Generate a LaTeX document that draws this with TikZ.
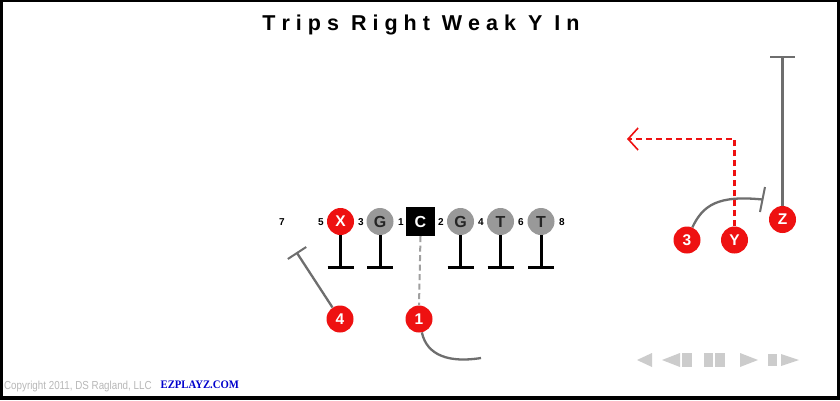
\documentclass[tikz,border=0pt]{standalone}
\usepackage{fontspec}
\setmainfont{Liberation Sans}
\newfontfamily\ezfont{Liberation Serif}
\usetikzlibrary{arrows.meta}
\makeatletter
\newcommand\ltrsp[1]{\@tfor\ltrch:=#1\do{\ltrch\kern6pt}}
\makeatother
\definecolor{pred}{HTML}{EE1111}
\definecolor{pgray}{HTML}{999999}
\definecolor{routegray}{HTML}{6E6E6E}
\definecolor{dashgray}{HTML}{A0A0A0}
\definecolor{ctrlgray}{HTML}{CCCCCC}
\definecolor{copygray}{HTML}{B8B8B8}
\definecolor{ezblue}{HTML}{0000CC}
\begin{document}
\begin{tikzpicture}[x=1pt,y=-1pt,
  lineman/.style={circle,fill=pgray,minimum size=27pt,inner sep=0pt,
    font=\bfseries\fontsize{16}{16}\selectfont,text=black!85},
  skill/.style={circle,fill=pred,minimum size=27pt,inner sep=0pt,
    font=\bfseries\fontsize{15.5}{15.5}\selectfont,text=white},
  cbox/.style={rectangle,fill=black,minimum size=29pt,inner sep=0pt,
    font=\bfseries\fontsize{16}{16}\selectfont,text=white},
  gapnum/.style={font=\bfseries\fontsize{10}{10}\selectfont,inner sep=0pt},
  blk/.style={line width=3pt,black},
  rte/.style={line width=2.3pt,routegray},
  bar/.style={line width=2pt,routegray},
  yroute/.style={line width=2.2pt,pred,dash pattern=on 6pt off 4pt},
  ctrl/.style={fill=ctrlgray}
]
\useasboundingbox (0,0) rectangle (840,400);
\fill[black] (0,0) rectangle (840,400);
\fill[white] (3,2) rectangle (837,396);

% title
\node[anchor=base,inner sep=0pt,font=\bfseries\fontsize{21.5}{21.5}\selectfont] (title) at (424,30)
  {\ltrsp{Trips}\hspace{6pt}\ltrsp{Right}\hspace{6pt}\ltrsp{Weak}\hspace{6pt}\ltrsp{Y}\hspace{6pt}\ltrsp{In}};

% line
\node[skill] (X) at (340.5,221.5) {X};
\node[lineman] (G1) at (380,221.5) {G};
\node[cbox] (C) at (420.5,221.5) {C};
\node[lineman] (G2) at (460.5,221.5) {G};
\node[lineman] (T1) at (500.5,221.5) {T};
\node[lineman] (T2) at (541,221.5) {T};

% gap numbers
\node[gapnum] (g7) at (282,222.5) {7};
\node[gapnum] (g5) at (321,222.5) {5};
\node[gapnum] (g3) at (361,222.5) {3};
\node[gapnum] (g1) at (401,222.5) {1};
\node[gapnum] (g2) at (441,222.5) {2};
\node[gapnum] (g4) at (481,222.5) {4};
\node[gapnum] (g6) at (521,222.5) {6};
\node[gapnum] (g8) at (562,222.5) {8};

% blocks
\foreach \n in {X,G1,G2,T1,T2}{
  \draw[blk] (\n.south) -- ++(0,32) ++(-13,0) -- ++(26,0);
}

% backs and receivers
\node[skill] (n4) at (340,319) {4};
\node[skill] (n1) at (419,319) {1};
\node[skill] (n3) at (687,240) {3};
\node[skill] (Y) at (734.5,240) {Y};
\node[skill] (Z) at (782.5,219.5) {Z};

% center snap to QB
\draw[line width=2pt,dashgray,dash pattern=on 6pt off 3.5pt] (C.south) -- (n1.north);

% 4 route
\coordinate (p4) at (297,253);
\draw[rte] (n4) -- (p4);
\draw[bar] (p4) ++(-9.2,6) -- ++(18.4,-12);

% 1 route
\coordinate (e1) at (481,358);
\draw[rte] (n1.-78) .. controls (427,356) and (450,363) .. (e1);

% 3 route
\coordinate (b3) at (762.5,199.5);
\draw[rte] (n3.67) .. controls (703,205) and (718,195) .. (b3);
\draw[bar] (b3) ++(2.5,-12.5) -- ++(-5,25);

% Y route
\coordinate (ye) at (627,139);
\draw[yroute,-{Straight Barb[length=10pt,width=22pt,line width=1.6pt]}] (Y.north) |- (ye);

% Z route
\coordinate (zt) at (782.5,57);
\draw[rte] (Z.north) -- (zt);
\draw[bar] (zt) ++(-12.5,0) -- ++(25,0);

% control icons
\fill[ctrl] (637,360) -- (652,353) -- (652,367) -- cycle;
\fill[ctrl] (662,360) -- (680,353) -- (680,367) -- cycle;
\fill[ctrl] (682,353) rectangle (692,367);
\fill[ctrl] (704,353) rectangle (713,367);
\fill[ctrl] (715,353) rectangle (725,367);
\fill[ctrl] (740,353) -- (758,360) -- (740,367) -- cycle;
\fill[ctrl] (768,354) rectangle (777,366);
\fill[ctrl] (781,354) -- (799,360) -- (781,366) -- cycle;

% footer
\node[anchor=base west,inner sep=0pt,text=copygray,font=\fontsize{11.6}{11.6}\selectfont,xscale=0.845] (copy) at (4,389) {Copyright 2011, DS Ragland, LLC};
\node[anchor=base west,inner sep=0pt,text=ezblue,font=\ezfont\bfseries\fontsize{11.5}{11.5}\selectfont,xscale=0.93] (ez) at (160.5,388) {EZPLAYZ.COM};
\end{tikzpicture}
\end{document}
